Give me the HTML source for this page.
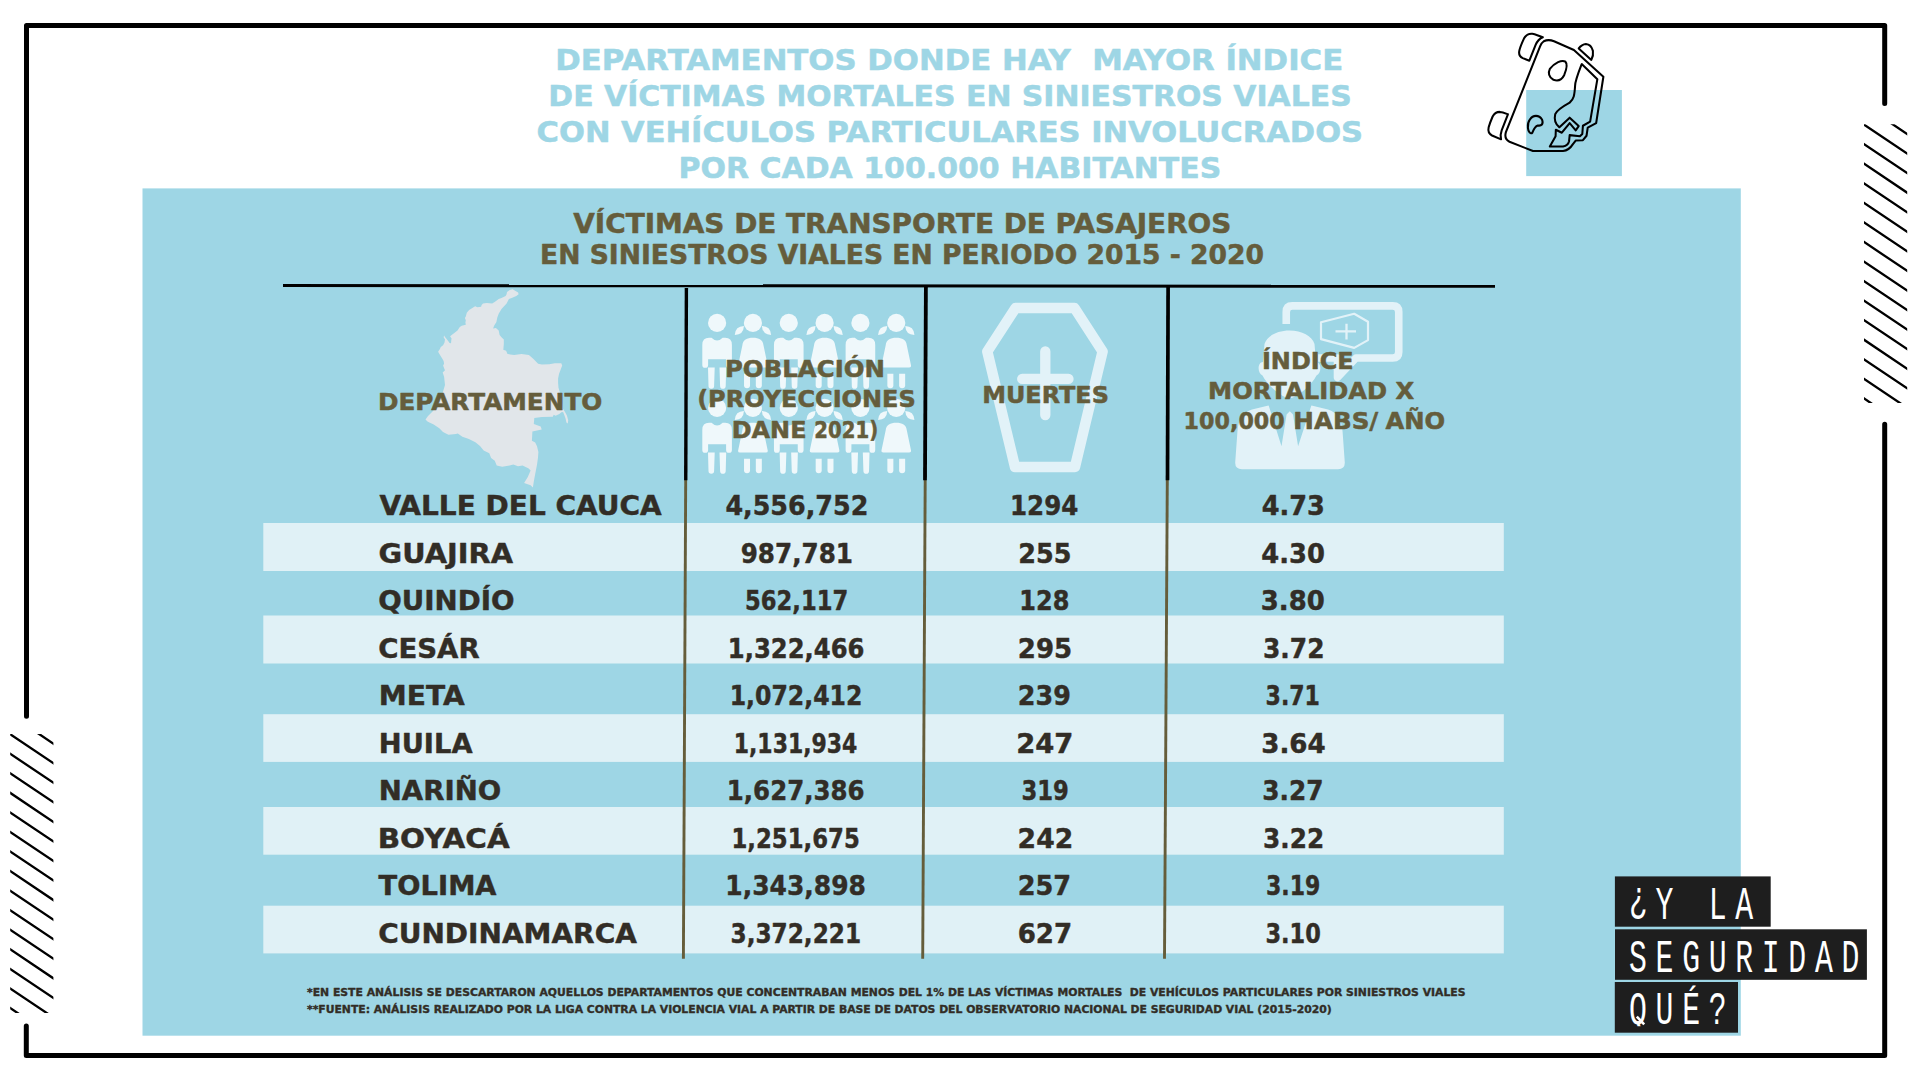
<!DOCTYPE html>
<html lang="es"><head><meta charset="utf-8"><title>Víctimas de transporte de pasajeros en siniestros viales</title>
<style>html,body{margin:0;padding:0;background:#fff;width:1920px;height:1080px;overflow:hidden}</style></head>
<body>
<svg width="1920" height="1080" viewBox="0 0 1920 1080" style="display:block"><path d="M26.5,716.3 L26.5,25.5 L1884.7,25.5 L1884.7,103.5" stroke="#000" stroke-width="5" stroke-linecap="round" fill="none" stroke-linejoin="round"/>
<path d="M1884.7,424.2 L1884.7,1055.5 L26.3,1055.5 L26.3,1026" stroke="#000" stroke-width="5" stroke-linecap="round" fill="none" stroke-linejoin="round"/>
<defs><clipPath id="hr"><rect x="1864" y="124.2" width="43.2" height="278.8"/></clipPath><clipPath id="hl"><rect x="10.2" y="734" width="43.2" height="279"/></clipPath></defs>
<path clip-path="url(#hr)" d="M1859.00,-269.96 L1912.20,-234.26 M1859.00,-250.39 L1912.20,-214.70 M1859.00,-230.83 L1912.20,-195.14 M1859.00,-211.27 L1912.20,-175.58 M1859.00,-191.71 L1912.20,-156.02 M1859.00,-172.15 L1912.20,-136.46 M1859.00,-152.59 L1912.20,-116.90 M1859.00,-133.03 L1912.20,-97.34 M1859.00,-113.47 L1912.20,-77.78 M1859.00,-93.92 L1912.20,-58.22 M1859.00,-74.36 L1912.20,-38.66 M1859.00,-54.80 L1912.20,-19.10 M1859.00,-35.23 L1912.20,0.46 M1859.00,-15.67 L1912.20,20.02 M1859.00,3.89 L1912.20,39.58 M1859.00,23.44 L1912.20,59.14 M1859.00,43.00 L1912.20,78.70 M1859.00,62.56 L1912.20,98.26 M1859.00,82.12 L1912.20,117.82 M1859.00,101.68 L1912.20,137.38 M1859.00,121.24 L1912.20,156.94 M1859.00,140.81 L1912.20,176.50 M1859.00,160.37 L1912.20,196.06 M1859.00,179.92 L1912.20,215.62 M1859.00,199.48 L1912.20,235.18 M1859.00,219.04 L1912.20,254.74 M1859.00,238.60 L1912.20,274.30 M1859.00,258.16 L1912.20,293.86 M1859.00,277.72 L1912.20,313.42 M1859.00,297.28 L1912.20,332.98 M1859.00,316.84 L1912.20,352.54 M1859.00,336.40 L1912.20,372.10 M1859.00,355.96 L1912.20,391.66 M1859.00,375.52 L1912.20,411.22 M1859.00,395.08 L1912.20,430.78" stroke="#000" stroke-width="2.3" fill="none"/>
<path clip-path="url(#hl)" d="M5.20,339.65 L58.40,375.34 M5.20,359.21 L58.40,394.90 M5.20,378.77 L58.40,414.46 M5.20,398.33 L58.40,434.02 M5.20,417.89 L58.40,453.58 M5.20,437.45 L58.40,473.14 M5.20,457.01 L58.40,492.70 M5.20,476.57 L58.40,512.26 M5.20,496.13 L58.40,531.82 M5.20,515.69 L58.40,551.38 M5.20,535.25 L58.40,570.94 M5.20,554.81 L58.40,590.50 M5.20,574.37 L58.40,610.06 M5.20,593.93 L58.40,629.62 M5.20,613.49 L58.40,649.18 M5.20,633.05 L58.40,668.74 M5.20,652.61 L58.40,688.30 M5.20,672.17 L58.40,707.86 M5.20,691.73 L58.40,727.42 M5.20,711.29 L58.40,746.98 M5.20,730.85 L58.40,766.54 M5.20,750.40 L58.40,786.10 M5.20,769.97 L58.40,805.66 M5.20,789.52 L58.40,825.22 M5.20,809.09 L58.40,844.78 M5.20,828.64 L58.40,864.34 M5.20,848.21 L58.40,883.90 M5.20,867.76 L58.40,903.46 M5.20,887.33 L58.40,923.02 M5.20,906.88 L58.40,942.58 M5.20,926.45 L58.40,962.14 M5.20,946.00 L58.40,981.70 M5.20,965.57 L58.40,1001.26 M5.20,985.12 L58.40,1020.82 M5.20,1004.68 L58.40,1040.38" stroke="#000" stroke-width="2.3" fill="none"/>
<rect x="1526.2" y="90" width="95.7" height="86.1" fill="#9ed6e5"/>
<rect x="142.5" y="188.4" width="1598.3" height="847.3" fill="#9ed6e5"/>
<rect x="263.3" y="523" width="1240.5" height="48.0" fill="#e0f1f6"/>
<rect x="263.3" y="615.5" width="1240.5" height="48.0" fill="#e0f1f6"/>
<rect x="263.3" y="714.2" width="1240.5" height="47.7" fill="#e0f1f6"/>
<rect x="263.3" y="807" width="1240.5" height="47.7" fill="#e0f1f6"/>
<rect x="263.3" y="905.7" width="1240.5" height="47.7" fill="#e0f1f6"/>
<polygon points="512.6,289.2 518.1,292.4 518.6,294.3 516.3,296.1 511.7,298 508.9,298.9 506.6,303.5 505.2,304.9 501.5,309.1 498.7,313.7 497.3,317.4 496.4,322 494.1,325.7 493.1,328.5 495.9,328.1 498.7,330.4 499.6,335 501.5,337.3 503.8,339.6 503.8,344.3 503.3,349.8 506.1,350.7 507.5,354 510.3,354.4 514.1,354.9 521.5,354 528.9,354.9 533.5,359.1 538.1,363.7 541.9,364.6 549.3,364.2 554.8,363.2 561.3,363.2 562.2,365.6 560.4,370.2 559,373.9 558.1,378.5 558.1,383.1 558.5,387.8 559.9,392.4 561.5,400 563.1,409.1 565,411.9 566.9,415.6 568.2,420.2 567.8,423.4 566.4,422.5 565.5,418.3 564.1,414.6 563.1,411.9 561.3,412.3 559.3,413.9 555.6,415.7 553.7,414.8 552.8,416.7 541.7,417.1 534.3,418.1 533.8,424.1 540.7,426.4 541.7,429.6 532.4,431.5 531.9,440.7 535.2,442.6 537,446.3 538.4,451.9 538,457.4 537,464.8 535.2,474.1 533.8,481.5 532.9,487.5 530.6,485.2 524.1,482.9 527.8,476.9 530.6,470.4 528.7,468.5 522.6,465.4 518,466.3 513.3,464.4 509.6,465.4 502.2,466.8 496.7,465.4 494.8,460.7 491.1,458 489.3,453.3 483.7,450.6 480,445.9 475.4,442.2 468.9,439 462.4,436.7 457.8,433.4 455.9,433.9 448.5,434.8 443,432 439.3,428.3 433.7,424.6 430,422.8 427.5,421.5 425.5,419.5 428,416 433,411 437,405 441,398 443.5,390 445,385 444.1,376.7 442.7,372.5 445,370.2 444.1,368.3 443.1,365.6 444.1,363.7 443.6,360.9 442.2,358.6 440.8,356.3 439.4,354 438.1,351.7 439.9,348.9 440.8,347 443.1,345.2 444.5,342.4 445,339.6 443.6,337.3 444.1,335.5 445,336.9 447.8,340.6 449.6,342.9 451,343.3 451.5,338.2 450.1,336.4 451,335.5 454.3,333.1 457.5,330.4 459.8,327.1 461.7,325.7 465.8,324.8 465.4,322.5 465.8,320.2 464.9,317.9 465.8,316.5 466.8,312.8 469.1,310 472.8,307.7 475.1,306.3 477.4,307.2 481.1,306.8 481.6,304.9 483,303.5 486.7,303.1 492.2,303.5 495,301.7 498.7,298.9 501.5,298 505.6,296.1 506.6,294.3 507,291.9 509.8,290.1" fill="#e1e6ea"/>
<line x1="283" y1="285.5" x2="1495" y2="286.3" stroke="#000" stroke-width="3"/>
<line x1="685.7" y1="480" x2="683.4" y2="958.8" stroke="#655d3a" stroke-width="2.9"/>
<line x1="925.2" y1="480" x2="922.7" y2="958.8" stroke="#655d3a" stroke-width="2.9"/>
<line x1="1167.3" y1="480" x2="1164.5" y2="958.8" stroke="#655d3a" stroke-width="2.9"/>
<line x1="686.4" y1="288" x2="685.75" y2="480.3" stroke="#000" stroke-width="3.4"/>
<line x1="925.9" y1="285.5" x2="925.0" y2="480.3" stroke="#000" stroke-width="3.8"/>
<line x1="1168.1" y1="285.5" x2="1167.5" y2="480.3" stroke="#000" stroke-width="3.7"/>
<g fill="#eff8fb"><circle cx="717.1" cy="322.9" r="9.1"/><path d="M702.30,344.9 Q702.30,337.79999999999995 709.10,337.79999999999995 L711.50,337.79999999999995 Q717.1,343.4 722.70,337.79999999999995 L725.10,337.79999999999995 Q731.90,337.79999999999995 731.90,344.9 L731.90,364.9 A2.9,2.9 0 0 1 726.10,364.9 L726.10,359.2 L708.10,359.2 L708.10,364.9 A2.9,2.9 0 0 1 702.30,364.9 Z"/><path d="M708.00,367.5 L714.70,367.5 L714.10,385.9 A2.80,2.80 0 0 1 708.50,385.9 Z"/><path d="M726.20,367.5 L719.50,367.5 L720.10,385.9 A2.80,2.80 0 0 0 725.70,385.9 Z"/><circle cx="752.93" cy="322.9" r="9.1"/><path d="M734.73,334.9 Q735.33,326.09999999999997 743.93,325.9 Q743.53,334.7 734.73,334.9 Z"/><path d="M771.13,334.9 Q770.53,326.09999999999997 761.93,325.9 Q762.33,334.7 771.13,334.9 Z"/><path d="M742.33,345.40 C742.93,339.9 746.93,337.79999999999995 752.93,337.79999999999995 C758.93,337.79999999999995 762.93,339.9 763.53,345.40 L767.7299999999999,365.4 Q768.13,367.5 765.93,367.5 L739.93,367.5 Q737.7299999999999,367.5 738.13,365.4 Z"/><path d="M744.03,373.79999999999995 L750.03,373.79999999999995 L750.03,385.29999999999995 A3,3 0 0 1 744.03,385.29999999999995 Z"/><path d="M755.8299999999999,373.79999999999995 L761.8299999999999,373.79999999999995 L761.8299999999999,385.29999999999995 A3,3 0 0 1 755.8299999999999,385.29999999999995 Z"/><circle cx="788.76" cy="322.9" r="9.1"/><path d="M773.96,344.9 Q773.96,337.79999999999995 780.76,337.79999999999995 L783.16,337.79999999999995 Q788.76,343.4 794.36,337.79999999999995 L796.76,337.79999999999995 Q803.56,337.79999999999995 803.56,344.9 L803.56,364.9 A2.9,2.9 0 0 1 797.76,364.9 L797.76,359.2 L779.76,359.2 L779.76,364.9 A2.9,2.9 0 0 1 773.96,364.9 Z"/><path d="M779.66,367.5 L786.36,367.5 L785.76,385.9 A2.80,2.80 0 0 1 780.16,385.9 Z"/><path d="M797.86,367.5 L791.16,367.5 L791.76,385.9 A2.80,2.80 0 0 0 797.36,385.9 Z"/><circle cx="824.59" cy="322.9" r="9.1"/><path d="M806.39,334.9 Q806.99,326.09999999999997 815.59,325.9 Q815.19,334.7 806.39,334.9 Z"/><path d="M842.79,334.9 Q842.19,326.09999999999997 833.59,325.9 Q833.99,334.7 842.79,334.9 Z"/><path d="M813.99,345.40 C814.59,339.9 818.59,337.79999999999995 824.59,337.79999999999995 C830.59,337.79999999999995 834.59,339.9 835.19,345.40 L839.39,365.4 Q839.7900000000001,367.5 837.59,367.5 L811.59,367.5 Q809.39,367.5 809.7900000000001,365.4 Z"/><path d="M815.69,373.79999999999995 L821.69,373.79999999999995 L821.69,385.29999999999995 A3,3 0 0 1 815.69,385.29999999999995 Z"/><path d="M827.49,373.79999999999995 L833.49,373.79999999999995 L833.49,385.29999999999995 A3,3 0 0 1 827.49,385.29999999999995 Z"/><circle cx="860.42" cy="322.9" r="9.1"/><path d="M845.62,344.9 Q845.62,337.79999999999995 852.42,337.79999999999995 L854.82,337.79999999999995 Q860.42,343.4 866.02,337.79999999999995 L868.42,337.79999999999995 Q875.22,337.79999999999995 875.22,344.9 L875.22,364.9 A2.9,2.9 0 0 1 869.42,364.9 L869.42,359.2 L851.42,359.2 L851.42,364.9 A2.9,2.9 0 0 1 845.62,364.9 Z"/><path d="M851.32,367.5 L858.02,367.5 L857.42,385.9 A2.80,2.80 0 0 1 851.82,385.9 Z"/><path d="M869.52,367.5 L862.82,367.5 L863.42,385.9 A2.80,2.80 0 0 0 869.02,385.9 Z"/><circle cx="896.25" cy="322.9" r="9.1"/><path d="M878.05,334.9 Q878.65,326.09999999999997 887.25,325.9 Q886.85,334.7 878.05,334.9 Z"/><path d="M914.45,334.9 Q913.85,326.09999999999997 905.25,325.9 Q905.65,334.7 914.45,334.9 Z"/><path d="M885.65,345.40 C886.25,339.9 890.25,337.79999999999995 896.25,337.79999999999995 C902.25,337.79999999999995 906.25,339.9 906.85,345.40 L911.05,365.4 Q911.45,367.5 909.25,367.5 L883.25,367.5 Q881.05,367.5 881.45,365.4 Z"/><path d="M887.35,373.79999999999995 L893.35,373.79999999999995 L893.35,385.29999999999995 A3,3 0 0 1 887.35,385.29999999999995 Z"/><path d="M899.15,373.79999999999995 L905.15,373.79999999999995 L905.15,385.29999999999995 A3,3 0 0 1 899.15,385.29999999999995 Z"/><circle cx="717.1" cy="407.9" r="9.1"/><path d="M702.30,429.9 Q702.30,422.79999999999995 709.10,422.79999999999995 L711.50,422.79999999999995 Q717.1,428.4 722.70,422.79999999999995 L725.10,422.79999999999995 Q731.90,422.79999999999995 731.90,429.9 L731.90,449.9 A2.9,2.9 0 0 1 726.10,449.9 L726.10,444.2 L708.10,444.2 L708.10,449.9 A2.9,2.9 0 0 1 702.30,449.9 Z"/><path d="M708.00,452.5 L714.70,452.5 L714.10,470.9 A2.80,2.80 0 0 1 708.50,470.9 Z"/><path d="M726.20,452.5 L719.50,452.5 L720.10,470.9 A2.80,2.80 0 0 0 725.70,470.9 Z"/><circle cx="752.93" cy="407.9" r="9.1"/><path d="M734.73,419.9 Q735.33,411.09999999999997 743.93,410.9 Q743.53,419.7 734.73,419.9 Z"/><path d="M771.13,419.9 Q770.53,411.09999999999997 761.93,410.9 Q762.33,419.7 771.13,419.9 Z"/><path d="M742.33,430.40 C742.93,424.9 746.93,422.79999999999995 752.93,422.79999999999995 C758.93,422.79999999999995 762.93,424.9 763.53,430.40 L767.7299999999999,450.4 Q768.13,452.5 765.93,452.5 L739.93,452.5 Q737.7299999999999,452.5 738.13,450.4 Z"/><path d="M744.03,458.79999999999995 L750.03,458.79999999999995 L750.03,470.29999999999995 A3,3 0 0 1 744.03,470.29999999999995 Z"/><path d="M755.8299999999999,458.79999999999995 L761.8299999999999,458.79999999999995 L761.8299999999999,470.29999999999995 A3,3 0 0 1 755.8299999999999,470.29999999999995 Z"/><circle cx="788.76" cy="407.9" r="9.1"/><path d="M773.96,429.9 Q773.96,422.79999999999995 780.76,422.79999999999995 L783.16,422.79999999999995 Q788.76,428.4 794.36,422.79999999999995 L796.76,422.79999999999995 Q803.56,422.79999999999995 803.56,429.9 L803.56,449.9 A2.9,2.9 0 0 1 797.76,449.9 L797.76,444.2 L779.76,444.2 L779.76,449.9 A2.9,2.9 0 0 1 773.96,449.9 Z"/><path d="M779.66,452.5 L786.36,452.5 L785.76,470.9 A2.80,2.80 0 0 1 780.16,470.9 Z"/><path d="M797.86,452.5 L791.16,452.5 L791.76,470.9 A2.80,2.80 0 0 0 797.36,470.9 Z"/><circle cx="824.59" cy="407.9" r="9.1"/><path d="M806.39,419.9 Q806.99,411.09999999999997 815.59,410.9 Q815.19,419.7 806.39,419.9 Z"/><path d="M842.79,419.9 Q842.19,411.09999999999997 833.59,410.9 Q833.99,419.7 842.79,419.9 Z"/><path d="M813.99,430.40 C814.59,424.9 818.59,422.79999999999995 824.59,422.79999999999995 C830.59,422.79999999999995 834.59,424.9 835.19,430.40 L839.39,450.4 Q839.7900000000001,452.5 837.59,452.5 L811.59,452.5 Q809.39,452.5 809.7900000000001,450.4 Z"/><path d="M815.69,458.79999999999995 L821.69,458.79999999999995 L821.69,470.29999999999995 A3,3 0 0 1 815.69,470.29999999999995 Z"/><path d="M827.49,458.79999999999995 L833.49,458.79999999999995 L833.49,470.29999999999995 A3,3 0 0 1 827.49,470.29999999999995 Z"/><circle cx="860.42" cy="407.9" r="9.1"/><path d="M845.62,429.9 Q845.62,422.79999999999995 852.42,422.79999999999995 L854.82,422.79999999999995 Q860.42,428.4 866.02,422.79999999999995 L868.42,422.79999999999995 Q875.22,422.79999999999995 875.22,429.9 L875.22,449.9 A2.9,2.9 0 0 1 869.42,449.9 L869.42,444.2 L851.42,444.2 L851.42,449.9 A2.9,2.9 0 0 1 845.62,449.9 Z"/><path d="M851.32,452.5 L858.02,452.5 L857.42,470.9 A2.80,2.80 0 0 1 851.82,470.9 Z"/><path d="M869.52,452.5 L862.82,452.5 L863.42,470.9 A2.80,2.80 0 0 0 869.02,470.9 Z"/><circle cx="896.25" cy="407.9" r="9.1"/><path d="M878.05,419.9 Q878.65,411.09999999999997 887.25,410.9 Q886.85,419.7 878.05,419.9 Z"/><path d="M914.45,419.9 Q913.85,411.09999999999997 905.25,410.9 Q905.65,419.7 914.45,419.9 Z"/><path d="M885.65,430.40 C886.25,424.9 890.25,422.79999999999995 896.25,422.79999999999995 C902.25,422.79999999999995 906.25,424.9 906.85,430.40 L911.05,450.4 Q911.45,452.5 909.25,452.5 L883.25,452.5 Q881.05,452.5 881.45,450.4 Z"/><path d="M887.35,458.79999999999995 L893.35,458.79999999999995 L893.35,470.29999999999995 A3,3 0 0 1 887.35,470.29999999999995 Z"/><path d="M899.15,458.79999999999995 L905.15,458.79999999999995 L905.15,470.29999999999995 A3,3 0 0 1 899.15,470.29999999999995 Z"/></g>
<polygon points="1015.5,308 1074.5,308 1102.6,351.5 1075,466.9 1015,466.9 987.3,351.5" fill="none" stroke="#e2f2f8" stroke-width="10.5" stroke-linejoin="round"/>
<path d="M1045.3,351.5 L1045.3,415 M1022.2,378.9 L1068.5,378.9" stroke="#e2f2f8" stroke-width="10.3" stroke-linecap="round"/>
<path d="M1286.25,324 L1286.25,312 Q1286.25,305.9 1292.3,305.9 L1392.7,305.9 Q1398.75,305.9 1398.75,312 L1398.75,351.9 Q1398.75,358 1392.7,358 L1356,358 L1337.5,377.5 L1337.5,358 L1318,358" fill="none" stroke="#e2f2f8" stroke-width="7.6" stroke-linejoin="round"/>
<polygon points="1321,322.2 1354.2,313.8 1368,321.8 1368,340.1 1354.2,347.9 1321,339.1" fill="none" stroke="#e2f2f8" stroke-width="2.2" stroke-linejoin="round"/>
<path d="M1335.5,331.3 L1356,331.3 M1346.5,323.8 L1346.5,339.5" stroke="#e2f2f8" stroke-width="2.3"/>
<path d="M1289.5,330.5 C1302,330.5 1312,336 1314.5,344 L1316,362 C1321.5,362 1322,373 1316.5,375.5 C1311,386 1298,396.5 1289.5,398.6 C1281,396.5 1268,386 1262.5,375.5 C1257,373 1257.5,362 1263,362 L1264.5,344 C1267,336 1277,330.5 1289.5,330.5 Z" fill="#e2f2f8"/>
<path d="M1268.5,405.4 L1252,409.5 C1243,412.5 1238,420 1237.4,432 L1235.2,462.5 Q1235,469.2 1242,469.2 L1338,469.2 Q1345,469.2 1344.8,462.5 L1342.6,432 C1342,420 1337,412.5 1328,409.5 L1311.5,405.4 Z" fill="#e2f2f8"/>
<polygon points="1268.5,405 1281.5,446.2 1286.6,414.5 1289.8,411.3 1293,414.5 1298.1,446.2 1311.5,405" fill="#9ed6e5"/>
<g transform="translate(1480,28) scale(0.120370)" fill="none" stroke="#000" stroke-width="17" stroke-linejoin="round"><path d="M530,110 C560,95 590,100 615,110 L780,183 L1025,405 L965,790 L895,828 L885,895 L855,932 L795,935 L772,965 C750,1000 720,1020 690,1022 L440,1022 L245,945 C215,930 205,900 215,865 L500,150 C508,130 518,118 530,110 Z"/><path d="M845,300 C810,390 790,440 790,480 C785,560 780,590 745,620 C700,645 640,680 625,715 C615,760 625,800 660,825 L745,745 L820,815 L795,850 L745,790 L680,870 L630,845 L628,900 L580,985 L690,985 C715,980 735,960 740,940 L745,890 L830,900 L850,880 L855,812 L915,778 L975,425 Z"/><path d="M580,340 C620,290 680,260 710,280 C730,300 720,340 700,390 C680,430 650,445 610,430 C570,410 565,370 580,340 Z"/><path d="M415,760 C440,720 490,720 515,760 C530,800 510,815 480,810 C460,815 450,830 435,870 C420,885 400,860 398,830 C395,800 400,780 415,760 Z"/><path d="M522,77 C495,88 475,110 462,140 L410,272 L355,250 C330,238 322,215 326,192 C330,170 350,120 365,88 C380,60 405,45 435,48 C460,52 490,68 522,77 Z"/><path d="M232,717 L180,850 C172,870 170,900 175,925 L100,893 C75,880 65,855 72,825 C80,795 92,765 105,735 C118,710 140,697 165,697 C190,698 210,708 232,717 Z"/><path d="M820,170 C835,150 855,135 880,133 C910,135 930,160 938,190 C942,215 935,245 925,265 Z"/></g>
<text transform="translate(555.28,70.35) scale(1.0627,1)" font-family="'DejaVu Sans', sans-serif" font-weight="bold" font-size="28.94" fill="#9ed6e5" stroke="#9ed6e5" stroke-width="0.5" stroke-linejoin="round" style="white-space:pre">DEPARTAMENTOS DONDE HAY  MAYOR ÍNDICE</text>
<text transform="translate(548.35,106.15) scale(1.0283,1)" font-family="'DejaVu Sans', sans-serif" font-weight="bold" font-size="29.08" fill="#9ed6e5" stroke="#9ed6e5" stroke-width="0.5" stroke-linejoin="round" style="white-space:pre">DE VÍCTIMAS MORTALES EN SINIESTROS VIALES</text>
<text transform="translate(536.54,141.85) scale(1.0551,1)" font-family="'DejaVu Sans', sans-serif" font-weight="bold" font-size="28.94" fill="#9ed6e5" stroke="#9ed6e5" stroke-width="0.5" stroke-linejoin="round" style="white-space:pre">CON VEHÍCULOS PARTICULARES INVOLUCRADOS</text>
<text transform="translate(678.56,177.55) scale(1.0259,1)" font-family="'DejaVu Sans', sans-serif" font-weight="bold" font-size="29.22" fill="#9ed6e5" stroke="#9ed6e5" stroke-width="0.5" stroke-linejoin="round" style="white-space:pre">POR CADA 100.000 HABITANTES</text>
<text transform="translate(573.22,232.65) scale(1.0650,1)" font-family="'DejaVu Sans', sans-serif" font-weight="bold" font-size="26.20" fill="#655d3c" stroke="#655d3c" stroke-width="0.5" stroke-linejoin="round" style="white-space:pre">VÍCTIMAS DE TRANSPORTE DE PASAJEROS</text>
<text transform="translate(539.97,263.50) scale(1.0176,1)" font-family="'DejaVu Sans', sans-serif" font-weight="bold" font-size="26.13" fill="#655d3c" stroke="#655d3c" stroke-width="0.5" stroke-linejoin="round" style="white-space:pre">EN SINIESTROS VIALES EN PERIODO 2015 - 2020</text>
<text transform="translate(377.94,410.15) scale(1.0605,1)" font-family="'DejaVu Sans', sans-serif" font-weight="bold" font-size="23.32" fill="#655d3c" stroke="#655d3c" stroke-width="0.5" stroke-linejoin="round" style="white-space:pre">DEPARTAMENTO</text>
<text transform="translate(724.96,377.05) scale(1.0730,1)" font-family="'DejaVu Sans', sans-serif" font-weight="bold" font-size="22.77" fill="#655d3c" stroke="#655d3c" stroke-width="0.5" stroke-linejoin="round" style="white-space:pre">POBLACIÓN</text>
<text transform="translate(697.13,407.45) scale(1.0608,1)" font-family="'DejaVu Sans', sans-serif" font-weight="bold" font-size="22.63" fill="#655d3c" stroke="#655d3c" stroke-width="0.5" stroke-linejoin="round" style="white-space:pre">(PROYECCIONES</text>
<text transform="translate(731.70,437.75) scale(1.0779,1)" font-family="'DejaVu Sans', sans-serif" font-weight="bold" font-size="22.22" fill="#655d3c" stroke="#655d3c" stroke-width="0.5" stroke-linejoin="round" style="white-space:pre">DANE</text>
<text transform="translate(814.33,437.75) scale(0.8872,1)" font-family="'DejaVu Sans', sans-serif" font-weight="bold" font-size="22.22" fill="#655d3c" stroke="#655d3c" stroke-width="0.5" stroke-linejoin="round" style="white-space:pre">2021)</text>
<text transform="translate(982.15,402.75) scale(1.0573,1)" font-family="'DejaVu Sans', sans-serif" font-weight="bold" font-size="22.63" fill="#655d3c" stroke="#655d3c" stroke-width="0.5" stroke-linejoin="round" style="white-space:pre">MUERTES</text>
<text transform="translate(1261.93,368.55) scale(1.0727,1)" font-family="'DejaVu Sans', sans-serif" font-weight="bold" font-size="22.36" fill="#655d3c" stroke="#655d3c" stroke-width="0.5" stroke-linejoin="round" style="white-space:pre">ÍNDICE</text>
<text transform="translate(1208.10,398.75) scale(1.0841,1)" font-family="'DejaVu Sans', sans-serif" font-weight="bold" font-size="22.36" fill="#655d3c" stroke="#655d3c" stroke-width="0.5" stroke-linejoin="round" style="white-space:pre">MORTALIDAD X</text>
<text transform="translate(1183.62,429.05) scale(0.9871,1)" font-family="'DejaVu Sans', sans-serif" font-weight="bold" font-size="22.50" fill="#655d3c" stroke="#655d3c" stroke-width="0.5" stroke-linejoin="round" style="white-space:pre">100,000</text>
<text transform="translate(1293.36,429.05) scale(1.0924,1)" font-family="'DejaVu Sans', sans-serif" font-weight="bold" font-size="22.50" fill="#655d3c" stroke="#655d3c" stroke-width="0.5" stroke-linejoin="round" style="white-space:pre">HABS/</text>
<text transform="translate(1385.44,429.05) scale(1.0787,1)" font-family="'DejaVu Sans', sans-serif" font-weight="bold" font-size="22.50" fill="#655d3c" stroke="#655d3c" stroke-width="0.5" stroke-linejoin="round" style="white-space:pre">AÑO</text>
<text transform="translate(379.59,515.07) scale(1.0441,1)" font-family="'DejaVu Sans', sans-serif" font-weight="bold" font-size="26.82" fill="#322d26" stroke="#322d26" stroke-width="0.45" stroke-linejoin="round" style="white-space:pre">VALLE DEL CAUCA</text>
<text transform="translate(378.59,562.60) scale(1.0752,1)" font-family="'DejaVu Sans', sans-serif" font-weight="bold" font-size="26.82" fill="#322d26" stroke="#322d26" stroke-width="0.45" stroke-linejoin="round" style="white-space:pre">GUAJIRA</text>
<text transform="translate(378.19,610.13) scale(1.0328,1)" font-family="'DejaVu Sans', sans-serif" font-weight="bold" font-size="26.82" fill="#322d26" stroke="#322d26" stroke-width="0.45" stroke-linejoin="round" style="white-space:pre">QUINDÍO</text>
<text transform="translate(378.19,657.66) scale(1.0286,1)" font-family="'DejaVu Sans', sans-serif" font-weight="bold" font-size="26.82" fill="#322d26" stroke="#322d26" stroke-width="0.45" stroke-linejoin="round" style="white-space:pre">CESÁR</text>
<text transform="translate(378.73,705.19) scale(1.0482,1)" font-family="'DejaVu Sans', sans-serif" font-weight="bold" font-size="26.82" fill="#322d26" stroke="#322d26" stroke-width="0.45" stroke-linejoin="round" style="white-space:pre">META</text>
<text transform="translate(378.78,752.72) scale(1.0187,1)" font-family="'DejaVu Sans', sans-serif" font-weight="bold" font-size="26.82" fill="#322d26" stroke="#322d26" stroke-width="0.45" stroke-linejoin="round" style="white-space:pre">HUILA</text>
<text transform="translate(378.76,800.25) scale(1.0291,1)" font-family="'DejaVu Sans', sans-serif" font-weight="bold" font-size="26.82" fill="#322d26" stroke="#322d26" stroke-width="0.45" stroke-linejoin="round" style="white-space:pre">NARIÑO</text>
<text transform="translate(377.67,847.78) scale(1.0975,1)" font-family="'DejaVu Sans', sans-serif" font-weight="bold" font-size="26.82" fill="#322d26" stroke="#322d26" stroke-width="0.45" stroke-linejoin="round" style="white-space:pre">BOYACÁ</text>
<text transform="translate(378.62,895.31) scale(1.0206,1)" font-family="'DejaVu Sans', sans-serif" font-weight="bold" font-size="26.82" fill="#322d26" stroke="#322d26" stroke-width="0.45" stroke-linejoin="round" style="white-space:pre">TOLIMA</text>
<text transform="translate(378.19,942.84) scale(1.0436,1)" font-family="'DejaVu Sans', sans-serif" font-weight="bold" font-size="26.82" fill="#322d26" stroke="#322d26" stroke-width="0.45" stroke-linejoin="round" style="white-space:pre">CUNDINAMARCA</text>
<text transform="translate(725.39,515.07) scale(0.9467,1)" font-family="'DejaVu Sans', sans-serif" font-weight="bold" font-size="26.82" fill="#322d26" stroke="#322d26" stroke-width="0.45" stroke-linejoin="round" style="white-space:pre">4,556,752</text>
<text transform="translate(740.69,562.60) scale(0.9200,1)" font-family="'DejaVu Sans', sans-serif" font-weight="bold" font-size="26.82" fill="#322d26" stroke="#322d26" stroke-width="0.45" stroke-linejoin="round" style="white-space:pre">987,781</text>
<text transform="translate(745.00,610.13) scale(0.8454,1)" font-family="'DejaVu Sans', sans-serif" font-weight="bold" font-size="26.82" fill="#322d26" stroke="#322d26" stroke-width="0.45" stroke-linejoin="round" style="white-space:pre">562,117</text>
<text transform="translate(727.84,657.66) scale(0.9047,1)" font-family="'DejaVu Sans', sans-serif" font-weight="bold" font-size="26.82" fill="#322d26" stroke="#322d26" stroke-width="0.45" stroke-linejoin="round" style="white-space:pre">1,322,466</text>
<text transform="translate(729.63,705.19) scale(0.8797,1)" font-family="'DejaVu Sans', sans-serif" font-weight="bold" font-size="26.82" fill="#322d26" stroke="#322d26" stroke-width="0.45" stroke-linejoin="round" style="white-space:pre">1,072,412</text>
<text transform="translate(733.74,752.72) scale(0.8195,1)" font-family="'DejaVu Sans', sans-serif" font-weight="bold" font-size="26.82" fill="#322d26" stroke="#322d26" stroke-width="0.45" stroke-linejoin="round" style="white-space:pre">1,131,934</text>
<text transform="translate(726.82,800.25) scale(0.9122,1)" font-family="'DejaVu Sans', sans-serif" font-weight="bold" font-size="26.82" fill="#322d26" stroke="#322d26" stroke-width="0.45" stroke-linejoin="round" style="white-space:pre">1,627,386</text>
<text transform="translate(731.45,847.78) scale(0.8507,1)" font-family="'DejaVu Sans', sans-serif" font-weight="bold" font-size="26.82" fill="#322d26" stroke="#322d26" stroke-width="0.45" stroke-linejoin="round" style="white-space:pre">1,251,675</text>
<text transform="translate(725.32,895.31) scale(0.9311,1)" font-family="'DejaVu Sans', sans-serif" font-weight="bold" font-size="26.82" fill="#322d26" stroke="#322d26" stroke-width="0.45" stroke-linejoin="round" style="white-space:pre">1,343,898</text>
<text transform="translate(730.52,942.84) scale(0.8651,1)" font-family="'DejaVu Sans', sans-serif" font-weight="bold" font-size="26.82" fill="#322d26" stroke="#322d26" stroke-width="0.45" stroke-linejoin="round" style="white-space:pre">3,372,221</text>
<text transform="translate(1009.99,515.07) scale(0.9154,1)" font-family="'DejaVu Sans', sans-serif" font-weight="bold" font-size="26.82" fill="#322d26" stroke="#322d26" stroke-width="0.45" stroke-linejoin="round" style="white-space:pre">1294</text>
<text transform="translate(1018.23,562.60) scale(0.9500,1)" font-family="'DejaVu Sans', sans-serif" font-weight="bold" font-size="26.82" fill="#322d26" stroke="#322d26" stroke-width="0.45" stroke-linejoin="round" style="white-space:pre">255</text>
<text transform="translate(1019.26,610.13) scale(0.8946,1)" font-family="'DejaVu Sans', sans-serif" font-weight="bold" font-size="26.82" fill="#322d26" stroke="#322d26" stroke-width="0.45" stroke-linejoin="round" style="white-space:pre">128</text>
<text transform="translate(1017.82,657.66) scale(0.9708,1)" font-family="'DejaVu Sans', sans-serif" font-weight="bold" font-size="26.82" fill="#322d26" stroke="#322d26" stroke-width="0.45" stroke-linejoin="round" style="white-space:pre">295</text>
<text transform="translate(1017.86,705.19) scale(0.9467,1)" font-family="'DejaVu Sans', sans-serif" font-weight="bold" font-size="26.82" fill="#322d26" stroke="#322d26" stroke-width="0.45" stroke-linejoin="round" style="white-space:pre">239</text>
<text transform="translate(1016.17,752.72) scale(1.0227,1)" font-family="'DejaVu Sans', sans-serif" font-weight="bold" font-size="26.82" fill="#322d26" stroke="#322d26" stroke-width="0.45" stroke-linejoin="round" style="white-space:pre">247</text>
<text transform="translate(1021.46,800.25) scale(0.8473,1)" font-family="'DejaVu Sans', sans-serif" font-weight="bold" font-size="26.82" fill="#322d26" stroke="#322d26" stroke-width="0.45" stroke-linejoin="round" style="white-space:pre">319</text>
<text transform="translate(1017.61,847.78) scale(0.9926,1)" font-family="'DejaVu Sans', sans-serif" font-weight="bold" font-size="26.82" fill="#322d26" stroke="#322d26" stroke-width="0.45" stroke-linejoin="round" style="white-space:pre">242</text>
<text transform="translate(1017.65,895.31) scale(0.9538,1)" font-family="'DejaVu Sans', sans-serif" font-weight="bold" font-size="26.82" fill="#322d26" stroke="#322d26" stroke-width="0.45" stroke-linejoin="round" style="white-space:pre">257</text>
<text transform="translate(1017.63,942.84) scale(0.9741,1)" font-family="'DejaVu Sans', sans-serif" font-weight="bold" font-size="26.82" fill="#322d26" stroke="#322d26" stroke-width="0.45" stroke-linejoin="round" style="white-space:pre">627</text>
<text transform="translate(1261.80,515.07) scale(0.9541,1)" font-family="'DejaVu Sans', sans-serif" font-weight="bold" font-size="26.82" fill="#322d26" stroke="#322d26" stroke-width="0.45" stroke-linejoin="round" style="white-space:pre">4.73</text>
<text transform="translate(1261.22,562.60) scale(0.9617,1)" font-family="'DejaVu Sans', sans-serif" font-weight="bold" font-size="26.82" fill="#322d26" stroke="#322d26" stroke-width="0.45" stroke-linejoin="round" style="white-space:pre">4.30</text>
<text transform="translate(1260.84,610.13) scale(0.9662,1)" font-family="'DejaVu Sans', sans-serif" font-weight="bold" font-size="26.82" fill="#322d26" stroke="#322d26" stroke-width="0.45" stroke-linejoin="round" style="white-space:pre">3.80</text>
<text transform="translate(1263.03,657.66) scale(0.9298,1)" font-family="'DejaVu Sans', sans-serif" font-weight="bold" font-size="26.82" fill="#322d26" stroke="#322d26" stroke-width="0.45" stroke-linejoin="round" style="white-space:pre">3.72</text>
<text transform="translate(1265.56,705.19) scale(0.8220,1)" font-family="'DejaVu Sans', sans-serif" font-weight="bold" font-size="26.82" fill="#322d26" stroke="#322d26" stroke-width="0.45" stroke-linejoin="round" style="white-space:pre">3.71</text>
<text transform="translate(1261.23,752.72) scale(0.9739,1)" font-family="'DejaVu Sans', sans-serif" font-weight="bold" font-size="26.82" fill="#322d26" stroke="#322d26" stroke-width="0.45" stroke-linejoin="round" style="white-space:pre">3.64</text>
<text transform="translate(1262.25,800.25) scale(0.9251,1)" font-family="'DejaVu Sans', sans-serif" font-weight="bold" font-size="26.82" fill="#322d26" stroke="#322d26" stroke-width="0.45" stroke-linejoin="round" style="white-space:pre">3.27</text>
<text transform="translate(1263.08,847.78) scale(0.9235,1)" font-family="'DejaVu Sans', sans-serif" font-weight="bold" font-size="26.82" fill="#322d26" stroke="#322d26" stroke-width="0.45" stroke-linejoin="round" style="white-space:pre">3.22</text>
<text transform="translate(1265.94,895.31) scale(0.8216,1)" font-family="'DejaVu Sans', sans-serif" font-weight="bold" font-size="26.82" fill="#322d26" stroke="#322d26" stroke-width="0.45" stroke-linejoin="round" style="white-space:pre">3.19</text>
<text transform="translate(1265.47,942.84) scale(0.8370,1)" font-family="'DejaVu Sans', sans-serif" font-weight="bold" font-size="26.82" fill="#322d26" stroke="#322d26" stroke-width="0.45" stroke-linejoin="round" style="white-space:pre">3.10</text>
<text transform="translate(307.02,995.68) scale(1.0831,1)" font-family="'DejaVu Sans', sans-serif" font-weight="bold" font-size="10.01" fill="#322d26" stroke="#322d26" stroke-width="0.35" stroke-linejoin="round" style="white-space:pre">*EN ESTE ANÁLISIS SE DESCARTARON AQUELLOS DEPARTAMENTOS QUE CONCENTRABAN MENOS DEL 1% DE LAS VÍCTIMAS MORTALES  DE VEHÍCULOS PARTICULARES POR SINIESTROS VIALES</text>
<text transform="translate(307.01,1012.58) scale(1.0374,1)" font-family="'DejaVu Sans', sans-serif" font-weight="bold" font-size="10.43" fill="#322d26" stroke="#322d26" stroke-width="0.35" stroke-linejoin="round" style="white-space:pre">**FUENTE: ANÁLISIS REALIZADO POR LA LIGA CONTRA LA VIOLENCIA VIAL A PARTIR DE BASE DE DATOS DEL OBSERVATORIO NACIONAL DE SEGURIDAD VIAL (2015-2020)</text>
<rect x="1614.9" y="876.4" width="155.8" height="50.3" fill="#1e1e1e"/>
<rect x="1615" y="929.3" width="251.9" height="50.5" fill="#1e1e1e"/>
<rect x="1614.8" y="982" width="123.2" height="50.7" fill="#1e1e1e"/>
<defs><clipPath id="qclip"><rect x="1614.8" y="982" width="123.2" height="44.2"/></clipPath></defs>
<g><text transform="translate(0,918.5) scale(0.655,1)" font-family="'Liberation Mono', monospace" font-size="45.5" fill="#fff" style="white-space:pre"><tspan x="2487.11" dy="-5.6">¿</tspan><tspan x="2527.65 2568.18 2608.72 2649.25" dy="5.6">Y LA</tspan></text></g>
<g><text transform="translate(0,971.7) scale(0.655,1)" font-family="'Liberation Mono', monospace" font-size="45.5" fill="#fff" style="white-space:pre"><tspan x="2487.11 2527.65 2568.18 2608.72 2649.25 2689.79 2730.32 2770.85 2811.39">SEGURIDAD</tspan></text></g>
<g clip-path="url(#qclip)"><text transform="translate(0,1024.1) scale(0.655,1)" font-family="'Liberation Mono', monospace" font-size="45.5" fill="#fff" style="white-space:pre"><tspan x="2487.11 2527.65 2568.18 2608.72">QUÉ?</tspan></text></g>
<line x1="1636.8" y1="1016.6" x2="1644.2" y2="1024.4" stroke="#fff" stroke-width="2.6"/></svg>
</body></html>
